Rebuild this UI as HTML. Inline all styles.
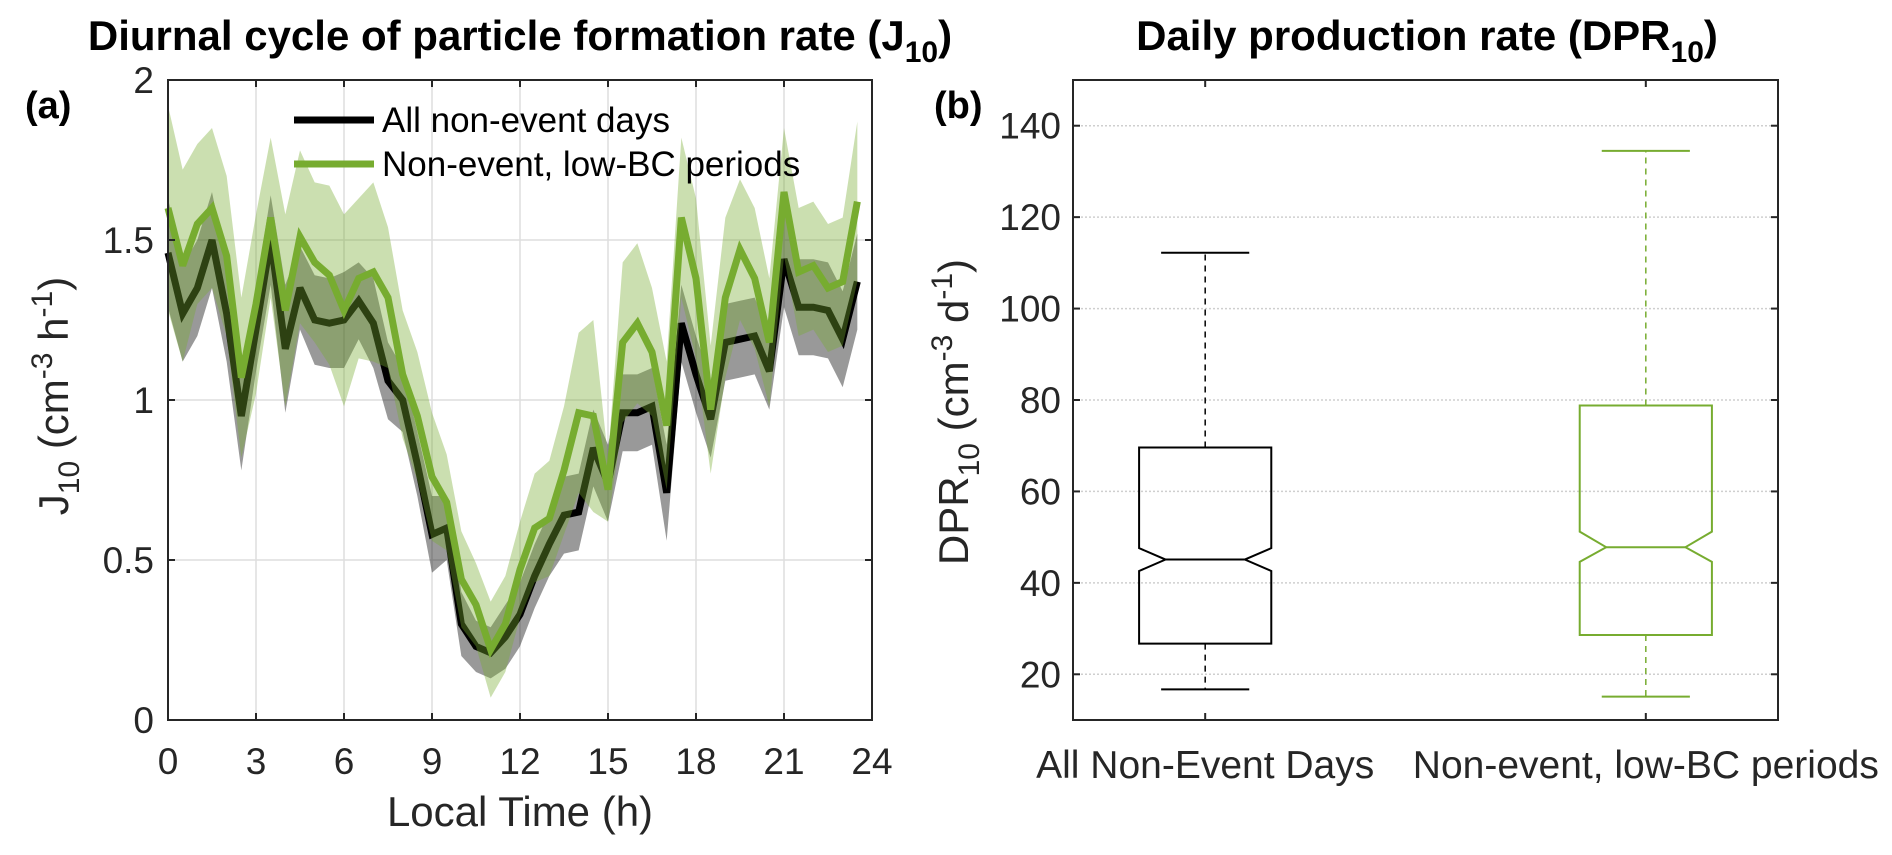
<!DOCTYPE html>
<html><head><meta charset="utf-8"><style>
html,body{margin:0;padding:0;background:#fff;}
svg{display:block;font-family:"Liberation Sans",Arial,sans-serif;}
</style></head><body>
<svg id="fig" width="1892" height="855" viewBox="0 0 1892 855" xmlns="http://www.w3.org/2000/svg">
<g id="panelA"></g>
<g id="panelB"></g>
</svg>
<script>
// ---- Panel (a) data ----
const hours = [0,0.5,1,1.5,2,2.5,3,3.5,4,4.5,5,5.5,6,6.5,7,7.5,8,8.5,9,9.5,10,10.5,11,11.5,12,12.5,13,13.5,14,14.5,15,15.5,16,16.5,17,17.5,18,18.5,19,19.5,20,20.5,21,21.5,22,22.5,23,23.5];
const allMean = [1.46,1.27,1.35,1.50,1.27,0.95,1.22,1.50,1.16,1.35,1.25,1.24,1.25,1.31,1.24,1.06,1.00,0.80,0.58,0.60,0.30,0.23,0.21,0.26,0.33,0.45,0.55,0.64,0.65,0.85,0.74,0.96,0.96,0.98,0.71,1.24,1.08,0.94,1.18,1.19,1.20,1.09,1.44,1.29,1.29,1.28,1.19,1.37];
const allSpread = [0.17,0.15,0.15,0.15,0.15,0.17,0.13,0.14,0.20,0.13,0.14,0.14,0.15,0.12,0.14,0.12,0.10,0.10,0.12,0.10,0.10,0.08,0.08,0.10,0.10,0.10,0.10,0.12,0.12,0.12,0.12,0.12,0.12,0.12,0.15,0.12,0.12,0.12,0.12,0.12,0.12,0.12,0.15,0.15,0.15,0.15,0.15,0.15];
const lowBCMean = [1.60,1.42,1.55,1.60,1.45,1.07,1.30,1.57,1.28,1.51,1.43,1.39,1.28,1.38,1.40,1.32,1.08,0.95,0.76,0.68,0.44,0.36,0.22,0.30,0.47,0.60,0.63,0.78,0.96,0.95,0.72,1.18,1.24,1.15,0.92,1.57,1.38,0.97,1.32,1.47,1.38,1.18,1.65,1.40,1.42,1.35,1.37,1.62];
const lowBCSpread = [0.32,0.30,0.25,0.25,0.25,0.25,0.28,0.25,0.30,0.27,0.25,0.28,0.30,0.25,0.28,0.22,0.20,0.20,0.20,0.15,0.15,0.13,0.15,0.15,0.15,0.17,0.18,0.20,0.25,0.30,0.10,0.25,0.25,0.20,0.20,0.25,0.25,0.20,0.25,0.22,0.22,0.20,0.20,0.20,0.20,0.20,0.20,0.25];
const xTicksA = [0,3,6,9,12,15,18,21,24];
const yTicksA = [0,0.5,1,1.5,2];
const yTickLabelsA = ["0","0.5","1","1.5","2"];
// ---- Panel (b) data ----
const boxCategories = ["All Non-Event Days","Non-event, low-BC periods"];
const whiskerLow = [16.7,15.1];
const q1 = [26.7,28.6];
const notchLow = [42.6,44.6];
const medians = [45.1,47.8];
const notchHigh = [47.6,51.2];
const q3 = [69.6,78.8];
const whiskerHigh = [112.2,134.5];
const yTicksB = [20,40,60,80,100,120,140];

const NS = "http://www.w3.org/2000/svg";
function mk(parent, tag, attrs, text){
  const e = document.createElementNS(NS, tag);
  for (const k in attrs) e.setAttribute(k, attrs[k]);
  if (text !== undefined) e.textContent = text;
  parent.appendChild(e);
  return e;
}
const TICKFS = 37;

// ===== Panel A =====
const A = document.getElementById('panelA');
const aL=168,aR=872,aT=80,aB=720;
const xA = h => aL + (h/24)*(aR-aL);
const yA = v => aB - (v/2)*(aB-aT);

mk(A,'rect',{x:aL,y:aT,width:aR-aL,height:aB-aT,fill:'#fff'});
xTicksA.forEach(t=>{
  if(t>0&&t<24){ const g=mk(A,'line',{x1:xA(t),x2:xA(t),y1:aT,y2:aB,stroke:'#dedede','stroke-width':1.5});
      }
});
yTicksA.forEach(t=>{
  if(t>0&&t<2){ const g=mk(A,'line',{x1:aL,x2:aR,y1:yA(t),y2:yA(t),stroke:'#dedede','stroke-width':1.5});
      }
});
function band(mean, spread, fill, op, name){
  let d='';
  hours.forEach((h,i)=>{ d += (i?'L':'M')+xA(h)+','+yA(mean[i]+spread[i]); });
  for(let i=hours.length-1;i>=0;i--) d += 'L'+xA(hours[i])+','+yA(mean[i]-spread[i]);
  const p=mk(A,'path',{d:d+'Z',fill:fill,'fill-opacity':op,stroke:'none'});
  
  
}
function line(mean, color, name){
  const pts = hours.map((h,i)=>xA(h)+','+yA(mean[i])).join(' ');
  const p=mk(A,'polyline',{points:pts,fill:'none',stroke:color,'stroke-width':7,'stroke-linejoin':'miter','stroke-miterlimit':3});
  
  
}
band(allMean, allSpread, '#000', 0.4, 'all-days-band');
line(allMean, '#000', 'all-days-line');
band(lowBCMean, lowBCSpread, '#77AC30', 0.38, 'low-bc-band');
line(lowBCMean, '#77AC30', 'low-bc-line');

mk(A,'rect',{x:aL,y:aT,width:aR-aL,height:aB-aT,fill:'none',stroke:'#262626','stroke-width':2});
xTicksA.forEach(t=>{
  mk(A,'line',{x1:xA(t),x2:xA(t),y1:aB,y2:aB-7,stroke:'#262626','stroke-width':2});
  mk(A,'line',{x1:xA(t),x2:xA(t),y1:aT,y2:aT+7,stroke:'#262626','stroke-width':2});
  const l=mk(A,'text',{x:xA(t),y:aB+54,'font-size':TICKFS,'text-anchor':'middle',fill:'#262626'},String(t));
   
});
yTicksA.forEach((t,i)=>{
  mk(A,'line',{x1:aL,x2:aL+7,y1:yA(t),y2:yA(t),stroke:'#262626','stroke-width':2});
  mk(A,'line',{x1:aR,x2:aR-7,y1:yA(t),y2:yA(t),stroke:'#262626','stroke-width':2});
  const l=mk(A,'text',{x:aL-14,y:yA(t)+13,'font-size':TICKFS,'text-anchor':'end',fill:'#262626'},yTickLabelsA[i]);
   
});
// legend
mk(A,'line',{x1:294,x2:374,y1:120,y2:120,stroke:'#000','stroke-width':7});
mk(A,'line',{x1:294,x2:374,y1:164,y2:164,stroke:'#77AC30','stroke-width':7});
const le1=mk(A,'text',{x:382,y:132,'font-size':35,fill:'#000'},'All non-event days');
 
const le2=mk(A,'text',{x:382,y:176,'font-size':35,fill:'#000'},'Non-event, low-BC periods');
 
</script>
<script>
(function(){
const A=document.getElementById('panelA');
A.insertAdjacentHTML('beforeend',
'<text x="520" y="50" font-size="42" font-weight="bold" text-anchor="middle" fill="#000">Diurnal cycle of particle formation rate (J<tspan font-size="30" dy="12">10</tspan><tspan dy="-12">)</tspan></text>'+
'<text x="25" y="118" font-size="38" font-weight="bold" fill="#000">(a)</text>'+
'<text x="520" y="826" font-size="42" text-anchor="middle" fill="#262626">Local Time (h)</text>'+
'<text transform="translate(68,396) rotate(-90)" font-size="42" text-anchor="middle" fill="#262626">J<tspan font-size="30" dy="11">10</tspan><tspan dy="-11"> (cm</tspan><tspan font-size="30" dy="-16">-3</tspan><tspan dy="16"> h</tspan><tspan font-size="30" dy="-16">-1</tspan><tspan dy="16">)</tspan></text>');
})();
</script>
<script>
(function(){
const B=document.getElementById('panelB');
const bL=1073,bR=1778,bT=80,bB=720;
const xB = c => bL + ((c-0.7)/1.6)*(bR-bL);
const yB = v => bB - ((v-10)/140)*(bB-bT);
mk(B,'rect',{x:bL,y:bT,width:bR-bL,height:bB-bT,fill:'#fff'});
yTicksB.forEach(t=>{
  const g=mk(B,'line',{x1:bL,x2:bR,y1:yB(t),y2:yB(t),stroke:'#cfcfcf','stroke-width':1.5,'stroke-dasharray':'2,2'});
   
});
const colors=['#000','#77AC30'];
const hw=0.15, nw=0.09, cw=0.1;
boxCategories.forEach((name,i)=>{
  const c=i+1, col=colors[i];
  const g=mk(B,'g',{});
  
  
  mk(g,'line',{x1:xB(c),x2:xB(c),y1:yB(q3[i]),y2:yB(whiskerHigh[i]),stroke:col,'stroke-width':1.5,'stroke-dasharray':'6,5'});
  mk(g,'line',{x1:xB(c),x2:xB(c),y1:yB(q1[i]),y2:yB(whiskerLow[i]),stroke:col,'stroke-width':1.5,'stroke-dasharray':'6,5'});
  mk(g,'line',{x1:xB(c-cw),x2:xB(c+cw),y1:yB(whiskerHigh[i]),y2:yB(whiskerHigh[i]),stroke:col,'stroke-width':2});
  mk(g,'line',{x1:xB(c-cw),x2:xB(c+cw),y1:yB(whiskerLow[i]),y2:yB(whiskerLow[i]),stroke:col,'stroke-width':2});
  const pts=[[c-hw,q1[i]],[c-hw,notchLow[i]],[c-nw,medians[i]],[c-hw,notchHigh[i]],[c-hw,q3[i]],[c+hw,q3[i]],[c+hw,notchHigh[i]],[c+nw,medians[i]],[c+hw,notchLow[i]],[c+hw,q1[i]]];
  mk(g,'polygon',{points:pts.map(p=>xB(p[0])+','+yB(p[1])).join(' '),fill:'none',stroke:col,'stroke-width':2});
  mk(g,'line',{x1:xB(c-nw),x2:xB(c+nw),y1:yB(medians[i]),y2:yB(medians[i]),stroke:col,'stroke-width':2});
  const l=mk(B,'text',{x:xB(c),y:bB+58,'font-size':39,'text-anchor':'middle',fill:'#262626'},name);
   
  mk(B,'line',{x1:xB(c),x2:xB(c),y1:bB,y2:bB-7,stroke:'#262626','stroke-width':2});
  mk(B,'line',{x1:xB(c),x2:xB(c),y1:bT,y2:bT+7,stroke:'#262626','stroke-width':2});
});
mk(B,'rect',{x:bL,y:bT,width:bR-bL,height:bB-bT,fill:'none',stroke:'#262626','stroke-width':2});
yTicksB.forEach(t=>{
  mk(B,'line',{x1:bL,x2:bL+7,y1:yB(t),y2:yB(t),stroke:'#262626','stroke-width':2});
  mk(B,'line',{x1:bR,x2:bR-7,y1:yB(t),y2:yB(t),stroke:'#262626','stroke-width':2});
  const l=mk(B,'text',{x:bL-12,y:yB(t)+13,'font-size':TICKFS,'text-anchor':'end',fill:'#262626'},String(t));
   
});
B.insertAdjacentHTML('beforeend',
'<text x="1427" y="50" font-size="42" font-weight="bold" text-anchor="middle" fill="#000">Daily production rate (DPR<tspan font-size="30" dy="12">10</tspan><tspan dy="-12">)</tspan></text>'+
'<text x="934" y="118" font-size="38" font-weight="bold" fill="#000">(b)</text>'+
'<text transform="translate(968,412) rotate(-90)" font-size="42" text-anchor="middle" fill="#262626">DPR<tspan font-size="30" dy="11">10</tspan><tspan dy="-11"> (cm</tspan><tspan font-size="30" dy="-16">-3</tspan><tspan dy="16"> d</tspan><tspan font-size="30" dy="-16">-1</tspan><tspan dy="16">)</tspan></text>');
})();
</script>
</body></html>
